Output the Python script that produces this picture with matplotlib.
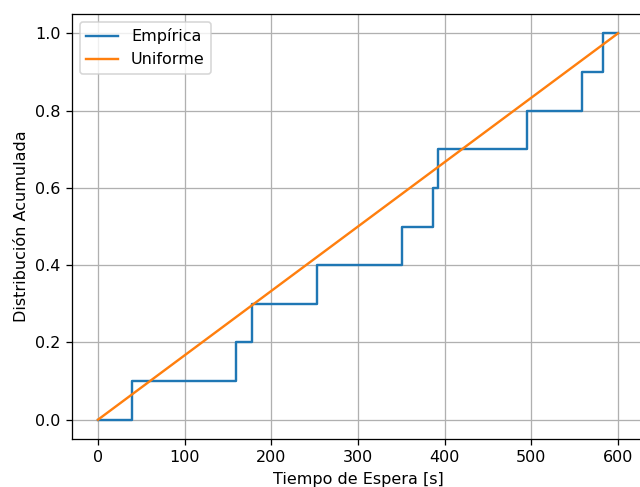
import matplotlib
matplotlib.use("Agg")
import matplotlib.pyplot as plt

tiempos = [39, 159, 178, 253, 351, 387, 392, 495, 558, 583]
x_emp = [0] + tiempos + [600]
y_emp = [0.0, 0.1, 0.2, 0.3, 0.4, 0.5, 0.6, 0.7, 0.8, 0.9, 1.0, 1.0]
x_uni = [0, 600]
y_uni = [0.0, 1.0]

DPI = 115
fig = plt.figure(figsize=(640/DPI, 487/DPI), dpi=DPI)
ax = fig.add_axes([72/640, (487-439)/487, (644-72)/640, (439-14)/487])
ax.step(x_emp, y_emp, where='post', label='Empírica')
ax.plot(x_uni, y_uni, label='Uniforme')
ax.set_xlim(-30, 630)
ax.set_ylim(-0.05, 1.05)
ax.set_xticks([0, 100, 200, 300, 400, 500, 600])
ax.set_yticks([0.0, 0.2, 0.4, 0.6, 0.8, 1.0])
ax.grid(True)
ax.set_xlabel('Tiempo de Espera [s]')
ax.set_ylabel('Distribución Acumulada')
ax.legend(loc='upper left')
fig.savefig('out.png', dpi=DPI)
